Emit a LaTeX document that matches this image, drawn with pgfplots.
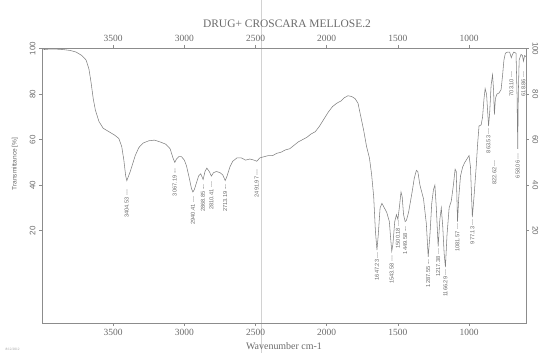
\documentclass[border=0pt]{standalone}
\usepackage{pgfplots}
\pgfplotsset{compat=1.18}
\usepackage{pgfplotstable}
\usepackage{fontspec}
\setmainfont{Liberation Serif}
\newfontfamily\sansf{Liberation Sans}
\definecolor{ink}{gray}{0.42}
\definecolor{axc}{gray}{0.55}
\definecolor{curve}{gray}{0.5}

\pgfplotstableread{
wn T
3990 99.6
3950 99.8
3900 99.8
3850 99.6
3800 99.2
3760 98.5
3720 97
3690 95
3670 91
3655 85
3640 78
3625 73
3600 68
3570 65
3530 63.5
3490 62
3460 60.5
3440 57
3425 51
3412 44
3404 42
3395 43.5
3380 46
3365 49
3345 53
3320 56.5
3290 58.5
3250 59.5
3210 59.8
3170 59
3130 58
3100 56
3080 52
3067 50
3055 51.5
3040 52.5
3020 52.5
3000 51
2985 48.5
2965 43
2950 38.5
2940 37
2930 38
2915 41
2900 44
2885 45
2868 42.5
2855 46
2842 47.5
2825 46
2810 44
2795 45.5
2775 46
2750 45.5
2730 44.5
2713 42
2700 44
2680 48
2660 50.5
2630 52
2600 52
2570 51
2540 51.5
2510 51
2491 50.5
2470 52
2440 52.5
2410 53
2380 53
2350 54
2320 54.5
2290 55.5
2260 56
2230 57.5
2200 59
2170 60
2140 61
2110 62.5
2080 63.5
2050 66
2020 69
1990 72
1960 74.5
1930 76
1900 77
1875 78.5
1850 79.3
1825 79
1800 78
1780 76
1760 70
1740 64
1720 57
1700 52
1685 45
1670 35
1658 20
1647 11.5
1638 18
1625 30
1612 32
1595 30
1578 28
1560 24
1550 16
1543 11
1535 14
1522 24
1510 27
1500 25
1490 30
1478 37
1470 35
1460 27
1449 24
1440 24.5
1425 28
1400 37
1385 43
1370 46.5
1360 46
1345 40
1320 34
1300 23
1287 8.5
1275 18
1262 32
1250 38
1240 40
1230 30
1217 13
1205 25
1195 30
1185 22
1175 10
1166 4
1155 18
1140 30
1125 33
1110 40
1098 47
1090 46
1081 24
1072 35
1060 44
1045 48
1030 50
1010 52
1000 53
990 48
977 26
965 35
950 48
940 58
930 66
915 66.5
905 70
895 78
887 82.5
877 80
863 66
855 72
845 84
835 88.5
828 82
822 71
815 78
805 80
790 80.5
775 82
765 88
755 95
745 98
730 98.5
715 98.5
703 96
695 97.5
685 98.5
670 98
663 80
658 56
654 80
648 95
635 97.5
625 97
618 94.5
610 97
600 96.5
}\spectrum

\pgfplotsset{
  common/.style={
    at={(42bp,30bp)}, anchor=south west, scale only axis,
    width=484bp, height=275bp,
    xmin=600, xmax=4000, x dir=reverse,
    ymin=-20.6, ymax=100.3,
    xtick={1000,1500,2000,2500,3000,3500},
    ytick={20,40,60,80,100},
    tick align=outside, major tick length=3bp,
    axis line style={axc, line width=0.5pt},
    tick style={axc, line width=0.5pt},
    /pgf/number format/1000 sep={},
    /pgf/number format/assume math mode=true,
    xticklabel style={font=\fontsize{9.5}{10}\selectfont, text=ink},
    yticklabel style={font=\sansf\fontsize{8}{9}\selectfont, text=ink, anchor=south},
    clip=false,
  },
}
\tikzset{
  pk/.style={rotate=90, anchor=east, inner sep=0pt, text=ink,
    font=\sansf\fontsize{5.7}{6}\selectfont},
}

\begin{document}
\begin{tikzpicture}
\useasboundingbox (0,0) rectangle (557bp,353bp);
\draw[gray!35, line width=0.4pt] (261bp,0) -- (261bp,353bp);

\begin{axis}[common, tick pos=left, ticklabel pos=left,
  yticklabel style={rotate=90}]
\addplot[curve, line width=0.55pt] table[x=wn, y=T] {\spectrum};
\node[pk] at (axis cs:3404.53,38) {3404.53 ---};
\node[pk] at (axis cs:3067.19,47.5) {3067.19 ---};
\node[pk] at (axis cs:2940.41,35) {2940.41 ---};
\node[pk] at (axis cs:2868.85,40.5) {2868.85 ---};
\node[pk] at (axis cs:2810.41,41.5) {2810.41 ---};
\node[pk] at (axis cs:2713.19,40.5) {2713.19 ---};
\node[pk] at (axis cs:2491.97,47) {2491.97 ---};
\node[pk] at (axis cs:1647.23,10.5) {1647.23 ---};
\node[pk] at (axis cs:1543.58,9) {1543.58 ---};
\node[pk] at (axis cs:1500.18,24.5) {1500.18 ---};
\node[pk] at (axis cs:1449.58,22) {1449.58 ---};
\node[pk] at (axis cs:1287.55,7.5) {1287.55 ---};
\node[pk] at (axis cs:1217.38,12) {1217.38 ---};
\node[pk] at (axis cs:1166.29,3) {1166.29 ---};
\node[pk] at (axis cs:1081.57,23) {1081.57 ---};
\node[pk] at (axis cs:977.13,25) {977.13 ---};
\node[pk] at (axis cs:863.53,65) {863.53 ---};
\node[pk] at (axis cs:822.62,51) {822.62 ---};
\node[pk] at (axis cs:703.10,90) {703.10 ---};
\node[pk] at (axis cs:658.06,54) {658.06 ---};
\node[pk] at (axis cs:618.86,90) {618.86 ---};
\end{axis}

\begin{axis}[common, tick pos=right, ticklabel pos=right,
  yticklabel style={rotate=-90}]
\end{axis}

\node[text=ink, font=\fontsize{11.5}{12}\selectfont] at (287bp,329bp) {DRUG+ CROSCARA MELLOSE.2};
\node[text=ink, font=\fontsize{10}{11}\selectfont] at (284bp,7bp) {Wavenumber cm-1};
\node[text=ink, rotate=90, font=\sansf\fontsize{6.6}{8}\selectfont] at (15bp,189bp) {Transmittance [\%]};
\node[text=ink!70, font=\fontsize{3.5}{4}\selectfont, anchor=west] at (2bp,4bp) {8/12/2012};
\end{tikzpicture}
\end{document}
